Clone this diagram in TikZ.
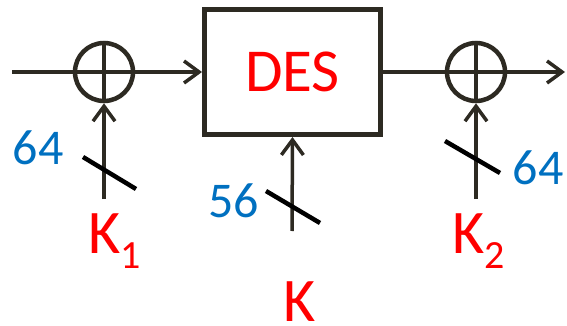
\documentclass[tikz,border=0pt]{standalone}
\usepackage{fontspec}
\setmainfont{Carlito}
\usetikzlibrary{arrows.meta}
\definecolor{wire}{HTML}{2D2A22}
\definecolor{keyred}{HTML}{FF0000}
\definecolor{bitblue}{HTML}{0070C0}
\tikzset{
  wireline/.style={draw=wire, line width=3.5pt},
  feed/.style={wireline, -{Straight Barb[length=15pt,width=22pt]}},
  xorgate/.style={circle, draw=wire, line width=4.5pt, minimum size=58pt, inner sep=0pt},
  cipherbox/.style={rectangle, draw=wire, line width=5pt, minimum width=176pt, minimum height=125pt,
    inner sep=0pt, text=keyred, font=\fontsize{61}{61}\selectfont},
  buswidth/.style={draw=black, line width=4.5pt},
  keylabel/.style={inner sep=0pt, text=keyred, font=\fontsize{62}{62}\selectfont},
  bitlabel/.style={inner sep=0pt, anchor=base, text=bitblue, font=\fontsize{50}{50}\selectfont},
}
\newcommand{\keysub}[1]{\raisebox{-15pt}{\fontsize{40}{40}\selectfont #1}}
\begin{document}
\begin{tikzpicture}[x=1pt, y=-1pt]
  \useasboundingbox (0,0) rectangle (567,326);

  % main data path
  \coordinate (in) at (12,72);
  \coordinate (out) at (565,72);
  \node[xorgate] (x1) at (104,72) {};
  \node[cipherbox] (des) at (292.5,72) {DES};
  \node[xorgate] (x2) at (476,72) {};

  \draw[wireline] (in) -- (x1.west);
  \draw[feed] (x1.east) -- (des.west);
  \draw[wireline] (des.east) -- (x2.west);
  \draw[feed] (x2.east) -- (out);

  % plus signs inside the XOR gates
  \draw[wireline] (x1.north) -- (x1.south);
  \draw[wireline] (x1.west) -- (x1.east);
  \draw[wireline] (x2.north) -- (x2.south);
  \draw[wireline] (x2.west) -- (x2.east);

  % key inputs
  \coordinate (k1in) at (104,199);
  \coordinate (kin) at (292,231);
  \coordinate (k2in) at (476,199);
  \draw[feed] (k1in) -- (x1.south);
  \draw[feed] (kin) -- (des.south);
  \draw[feed] (k2in) -- (x2.south);

  % bus width marks
  \coordinate (s1a) at (83,157);  \coordinate (s1b) at (136,189);
  \coordinate (s2a) at (266,191); \coordinate (s2b) at (320,223);
  \coordinate (s3a) at (445,141); \coordinate (s3b) at (500,173);
  \draw[buswidth] (s1a) -- (s1b);
  \draw[buswidth] (s2a) -- (s2b);
  \draw[buswidth] (s3a) -- (s3b);

  % labels
  \node[bitlabel] (w1) at (38,164) {64};
  \node[bitlabel] (w2) at (233.5,217) {56};
  \node[bitlabel] (w3) at (538,184) {64};
  \node[keylabel, anchor=base west] (k1) at (88,253) {K\keysub{1}};
  \node[keylabel, anchor=base] (k) at (299.5,321) {K};
  \node[keylabel, anchor=base west] (k2) at (452,253) {K\keysub{2}};
\end{tikzpicture}
\end{document}
